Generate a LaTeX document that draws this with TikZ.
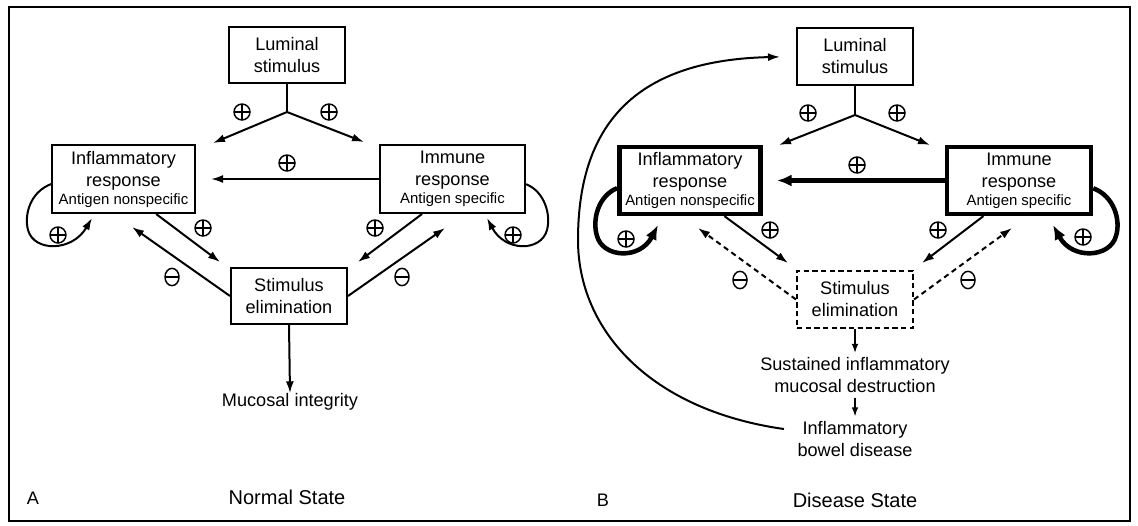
\documentclass[tikz,border=0pt]{standalone}
\usepackage{fontspec}
\setmainfont{Liberation Sans}
\usetikzlibrary{arrows.meta,shapes.geometric}

\begin{document}
\begin{tikzpicture}[x=0.75pt,y=-0.75pt,
    box/.style={draw,line width=1.5pt,align=center,inner sep=0pt,font=\fontsize{13.6}{16.5}\selectfont},
    thickbox/.style={box,line width=3.4pt},
    lbl/.style={align=center,font=\fontsize{13.6}{16.5}\selectfont},
    plussign/.style={circle,draw,line width=1.1pt,minimum size=12pt,inner sep=0pt,
      path picture={\draw[line width=1.1pt]
        (path picture bounding box.north) -- (path picture bounding box.south)
        (path picture bounding box.west) -- (path picture bounding box.east);}},
    minussign/.style={ellipse,draw,line width=1.1pt,minimum width=10.5pt,minimum height=13pt,inner sep=0pt,
      path picture={\draw[line width=1.1pt]
        (path picture bounding box.west) -- (path picture bounding box.east);}},
    arr/.style={line width=1.5pt,-{Latex[length=9pt,width=6pt]}},
    smallarr/.style={line width=1.2pt,-{Latex[length=7pt,width=5pt]}},
    thickarr/.style={line width=3.4pt,-{Latex[length=11pt,width=9pt]}},
    dasharr/.style={arr,dash pattern=on 4pt off 3pt}]

  \useasboundingbox (0,0) rectangle (1138,525);
  \draw[line width=1.5pt] (9,7) rectangle (1130,521);

  % A: normal state
  \node[box,minimum width=87pt,minimum height=42pt] (lumA) at (287,55) {Luminal\\stimulus};
  \node[box,minimum width=107pt,minimum height=51pt] (infA) at (123.5,179)
    {Inflammatory\\response\\[-3pt]{\fontsize{11.2}{13}\selectfont Antigen nonspecific}};
  \node[box,minimum width=109pt,minimum height=51pt] (immA) at (452.5,179)
    {Immune\\response\\[-3pt]{\fontsize{11.2}{13}\selectfont Antigen specific}};
  \node[box,minimum width=87pt,minimum height=42pt] (elimA) at (289,296) {Stimulus\\elimination};
  \node[lbl,inner ysep=0pt] (mucA) at (290,402) {Mucosal integrity};
  \node[lbl] (letA) at (33,498) {A};
  \node[lbl,font=\fontsize{15}{18}\selectfont] (titA) at (287,497) {Normal State};

  \coordinate (forkA) at (287,112);
  \coordinate (lA1) at (213,143);
  \coordinate (lA2) at (364,142);
  \coordinate (tA1) at (220,262);
  \coordinate (tA2) at (132,227);
  \coordinate (tA3) at (358,262);
  \coordinate (tA4) at (445,228);
  \coordinate (lpA1) at (92,218);
  \coordinate (lpA2) at (487,218);

  \draw[line width=1.5pt] (lumA.south) -- (forkA);
  \draw[arr] (forkA) -- (lA1);
  \draw[arr] (forkA) -- (lA2);
  \draw[arr,shorten >=11.4pt] (immA.west) -- (infA.east);
  \draw[arr] (infA.-47) -- (tA1);
  \draw[arr] (elimA.west) -- (tA2);
  \draw[arr] (immA.-131) -- (tA3);
  \draw[arr] (elimA.east) -- (tA4);
  \draw[arr] (elimA.south) -- (mucA.north);
  \draw[arr] (infA.184) .. controls (30,192) and (24,215) .. (28,230)
    .. controls (34,252) and (72,252) .. (lpA1);
  \draw[arr] (immA.-4) .. controls (545,192) and (551,215) .. (547,230)
    .. controls (541,252) and (505,252) .. (lpA2);

  \node[plussign] (pA1) at (242,112) {};
  \node[plussign] (pA2) at (329,112) {};
  \node[plussign] (pA3) at (287,163) {};
  \node[plussign] (pA4) at (58,235) {};
  \node[plussign] (pA5) at (513,235) {};
  \node[plussign] (pA6) at (203,228) {};
  \node[plussign] (pA7) at (375,228) {};
  \node[minussign] (mA1) at (172,277) {};
  \node[minussign] (mA2) at (402,277) {};

  % B: disease state
  \node[box,minimum width=87pt,minimum height=43pt] (lumB) at (855,56.5) {Luminal\\stimulus};
  \node[thickbox,minimum width=106pt,minimum height=50pt] (infB) at (690,180.5)
    {Inflammatory\\response\\[-3pt]{\fontsize{11.2}{13}\selectfont Antigen nonspecific}};
  \node[thickbox,minimum width=108pt,minimum height=50pt] (immB) at (1019,180.5)
    {Immune\\response\\[-3pt]{\fontsize{11.2}{13}\selectfont Antigen specific}};
  \node[box,dash pattern=on 4pt off 2.5pt,minimum width=87pt,minimum height=43pt] (elimB) at (855,299.5)
    {Stimulus\\elimination};
  \node[lbl] (susB) at (855,375.5) {Sustained inflammatory\\mucosal destruction};
  \node[lbl,inner xsep=10pt] (ibdB) at (855,439) {Inflammatory\\bowel disease};
  \node[lbl] (letB) at (603,500) {B};
  \node[lbl,font=\fontsize{15}{18}\selectfont] (titB) at (855,500) {Disease State};

  \coordinate (forkB) at (855,115);
  \coordinate (lB1) at (779,145);
  \coordinate (lB2) at (930,145);
  \coordinate (tB1) at (788,263);
  \coordinate (tB2) at (698,228);
  \coordinate (tB3) at (922,263);
  \coordinate (tB4) at (1012,228);
  \coordinate (lpB1) at (658,225);
  \coordinate (lpB2) at (1053,225);

  \draw[line width=1.5pt] (lumB.south) -- (forkB);
  \draw[arr] (forkB) -- (lB1);
  \draw[arr] (forkB) -- (lB2);
  \draw[thickarr,shorten >=10.5pt] (immB.west) -- (infB.east);
  \draw[arr] (infB.-46) -- (tB1);
  \draw[dasharr] (elimB.west) -- (tB2);
  \draw[arr] (immB.-135) -- (tB3);
  \draw[dasharr] (elimB.east) -- (tB4);
  \draw[smallarr] (elimB.south) -- (susB.north);
  \draw[smallarr] (susB.south) -- (ibdB.north);
  \draw[thickarr] (infB.186) .. controls (598,196) and (592,220) .. (597,236)
    .. controls (603,258) and (640,260) .. (lpB1);
  \draw[thickarr] (immB.-6) .. controls (1114,196) and (1121,220) .. (1116,236)
    .. controls (1110,258) and (1072,260) .. (lpB2);
  \draw[arr,shorten >=12pt] (ibdB.172) .. controls (650,410) and (578,330) .. (578,240)
    .. controls (578,120) and (640,60) .. (lumB.west);

  \node[plussign] (pB1) at (808,113) {};
  \node[plussign] (pB2) at (897,113) {};
  \node[plussign] (pB3) at (857,165) {};
  \node[plussign] (pB4) at (626,239) {};
  \node[plussign] (pB5) at (1083,237) {};
  \node[plussign] (pB6) at (770,230) {};
  \node[plussign] (pB7) at (938,230) {};
  \node[minussign] (mB1) at (740,280) {};
  \node[minussign] (mB2) at (968,280) {};

\end{tikzpicture}
\end{document}
